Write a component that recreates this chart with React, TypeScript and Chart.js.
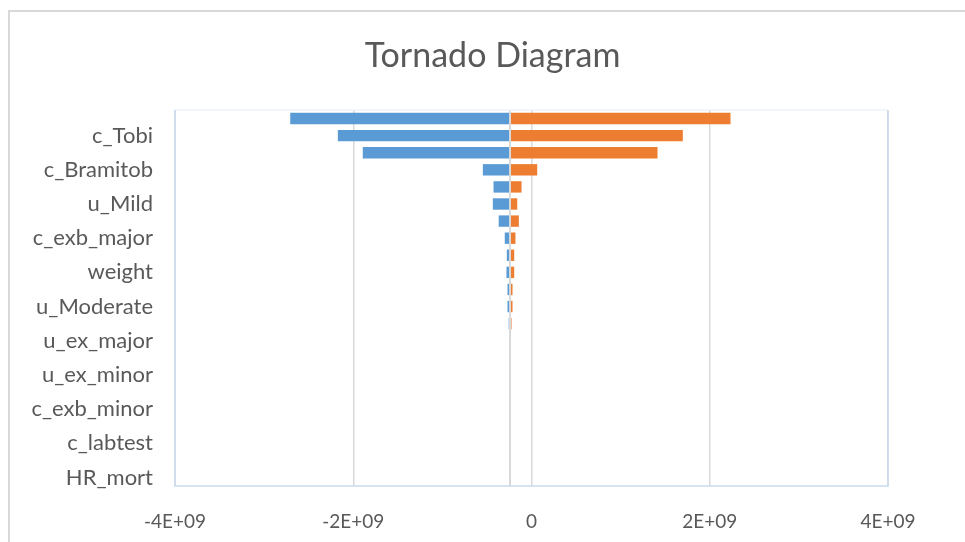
import React, { useEffect, useRef } from "react";
import { Chart, registerables } from "chart.js";

Chart.register(...registerables);

// 22 parameters; the chart only prints every second name (others are not readable)
const categories: string[] = [
  "", "c_Tobi", "", "c_Bramitob", "", "u_Mild", "", "c_exb_major", "", "weight", "",
  "u_Moderate", "", "u_ex_major", "", "u_ex_minor", "", "c_exb_minor", "", "c_labtest", "", "HR_mort",
];

// base case value where the bars meet
const baseValue = -2.41e8;

// low / high outcome for each parameter
const lowValues: number[] = [
  -2.707e9, -2.173e9, -1.893e9, -5.46e8, -4.26e8, -4.34e8, -3.68e8, -3.0e8, -2.77e8, -2.81e8, -2.69e8,
  -2.69e8, -2.56e8, -2.46e8, -2.44e8, -2.43e8, -2.42e8, -2.42e8, -2.42e8, -2.41e8, -2.41e8, -2.41e8,
];
const highValues: number[] = [
  2.233e9, 1.698e9, 1.414e9, 6.4e7, -1.12e8, -1.6e8, -1.42e8, -1.8e8, -1.94e8, -1.94e8, -2.13e8,
  -2.13e8, -2.24e8, -2.36e8, -2.38e8, -2.39e8, -2.4e8, -2.4e8, -2.4e8, -2.41e8, -2.41e8, -2.41e8,
];

const xMin = -4e9;
const xMax = 4e9;
const xStep = 2e9;

const titleText = "Tornado Diagram";

const FONT = "Lato, 'Open Sans', sans-serif";
const TEXT = "#595959";

const framePlugin = {
  id: "frame",
  afterDatasetsDraw(chart: any) {
    const { ctx, chartArea: a, scales } = chart;
    const x0 = scales.x.getPixelForValue(baseValue);
    ctx.save();
    ctx.strokeStyle = "#d9d9d9";
    ctx.lineWidth = 2;
    ctx.beginPath();
    ctx.moveTo(x0, a.top);
    ctx.lineTo(x0, a.bottom);
    ctx.stroke();
    ctx.lineWidth = 1.5;
    ctx.strokeStyle = "#eef2f8";
    ctx.beginPath();
    ctx.moveTo(a.left, a.top);
    ctx.lineTo(a.right, a.top);
    ctx.stroke();
    ctx.strokeStyle = "#c9daef";
    ctx.beginPath();
    ctx.moveTo(a.left, a.top);
    ctx.lineTo(a.left, a.bottom);
    ctx.lineTo(a.right, a.bottom);
    ctx.lineTo(a.right, a.top);
    ctx.stroke();
    ctx.restore();
  },
  afterDraw(chart: any) {
    // chart title, centred on the whole (wider) chart object as in the source
    const { ctx } = chart;
    ctx.save();
    ctx.fillStyle = TEXT;
    ctx.font = `normal 34px ${FONT}`;
    ctx.textAlign = "center";
    ctx.textBaseline = "middle";
    ctx.fillText(titleText, chart.width / 2 + 10, 56);
    ctx.restore();
  },
};

export default function App() {
  const ref = useRef<HTMLCanvasElement | null>(null);

  useEffect(() => {
    document.body.style.overflow = "hidden";
    if (!ref.current) return;
    const chart = new Chart(ref.current, {
      type: "bar",
      data: {
        labels: categories,
        datasets: [
          {
            label: "Low",
            data: lowValues.map((v) => [baseValue, v]) as any,
            backgroundColor: "#5B9BD5",
            grouped: false,
            barPercentage: 0.667,
            categoryPercentage: 1,
          } as any,
          {
            label: "High",
            data: highValues.map((v) => [baseValue, v]) as any,
            backgroundColor: "#ED7D31",
            grouped: false,
            barPercentage: 0.667,
            categoryPercentage: 1,
          } as any,
        ],
      },
      options: {
        indexAxis: "y",
        animation: false,
        responsive: false,
        maintainAspectRatio: false,
        layout: { padding: { left: 0, right: 77, top: 110, bottom: 0 } },
        plugins: {
          legend: { display: false },
          tooltip: { enabled: false },
          title: { display: false },
        },
        scales: {
          x: {
            min: xMin,
            max: xMax,
            afterFit: (s: any) => {
              s.height = 56;
            },
            ticks: {
              stepSize: xStep,
              color: TEXT,
              font: { family: FONT, size: 19 },
              padding: 24,
              maxRotation: 0,
              callback: (v: any) => (Number(v) === 0 ? "0" : `${Number(v) / 1e9}E+09`),
            },
            grid: { color: "#d9d9d9", lineWidth: 1.5, drawTicks: false },
            border: { display: false },
          },
          y: {
            afterFit: (s: any) => {
              s.width = 175;
            },
            ticks: {
              autoSkip: false,
              color: TEXT,
              font: { family: FONT, size: 22 },
              padding: 22,
            },
            grid: { display: false, drawTicks: false },
            border: { display: false },
          },
        },
      },
      plugins: [framePlugin],
    });
    return () => chart.destroy();
  }, []);

  return (
    <>
      <div
        style={{
          position: "fixed",
          left: 8,
          top: 10,
          width: 957,
          height: 532,
          borderLeft: "2px solid #d9d9d9",
          borderTop: "2px solid #d9d9d9",
          boxSizing: "border-box",
          background: "#fff",
        }}
      />
      <canvas
        ref={ref}
        width={965}
        height={542}
        style={{ position: "fixed", left: 0, top: 0, width: 965, height: 542 }}
      />
    </>
  );
}
